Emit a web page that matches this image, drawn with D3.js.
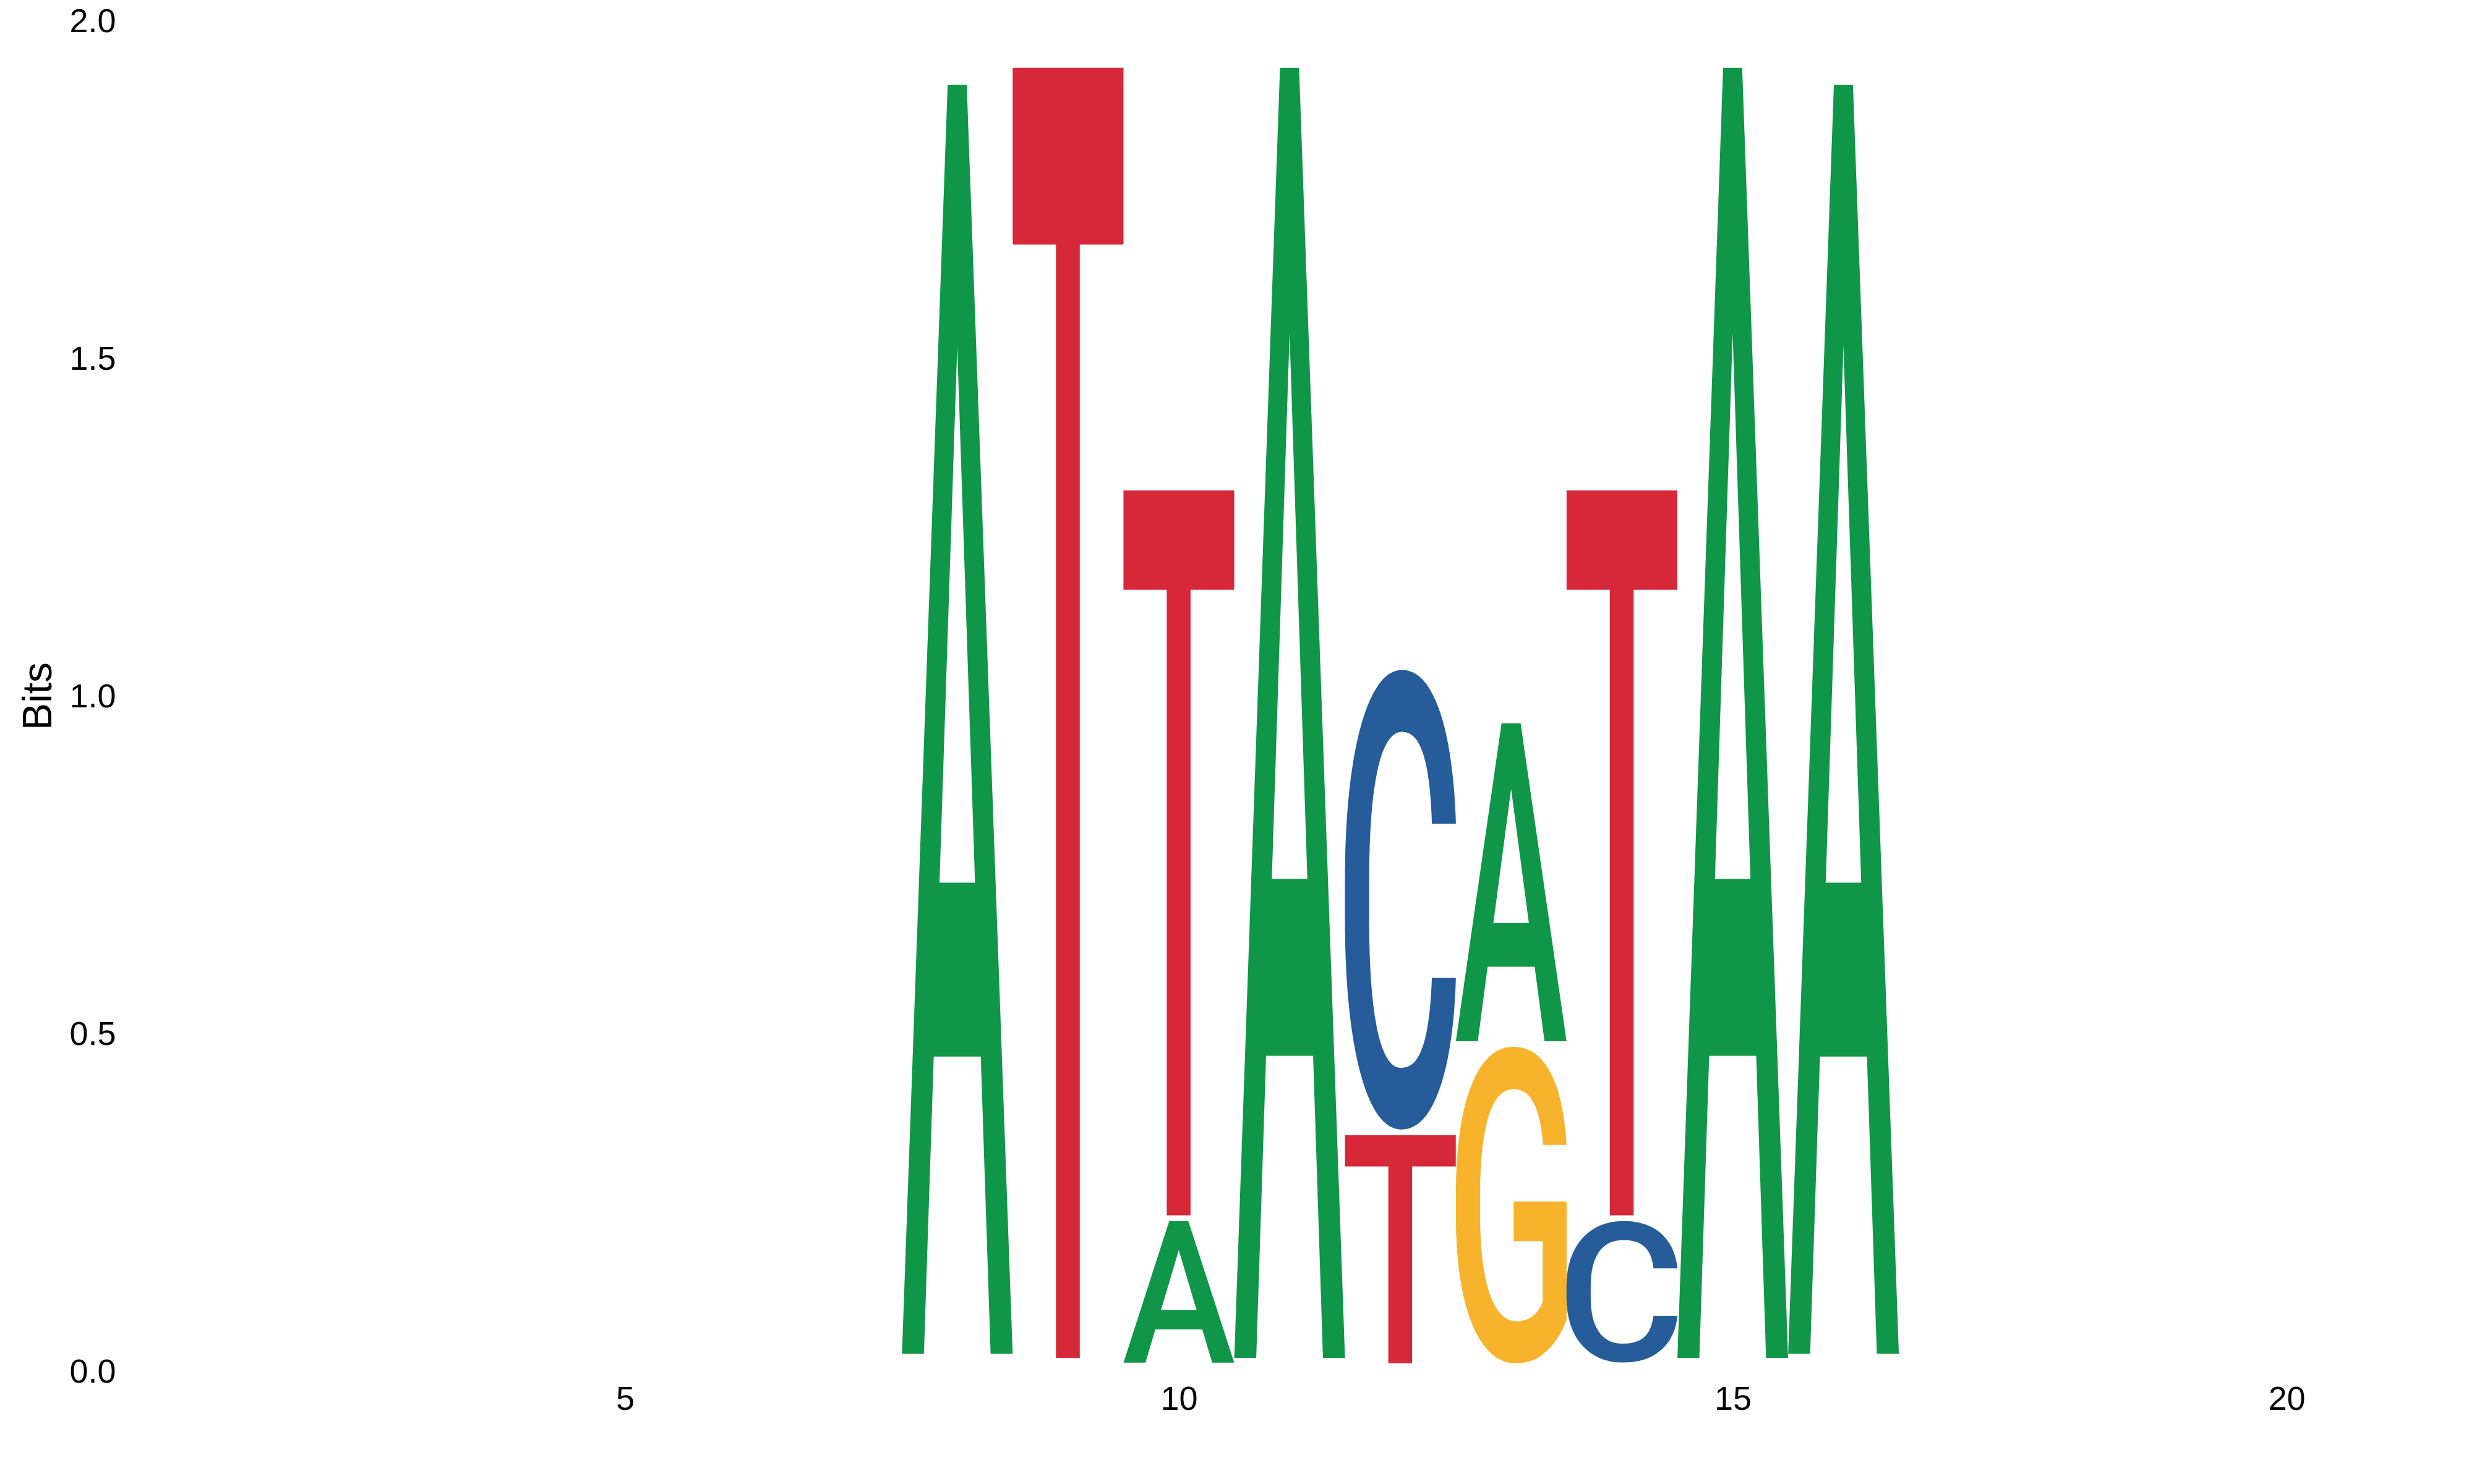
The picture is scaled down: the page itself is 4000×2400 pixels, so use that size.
<!DOCTYPE html>
<html><head><meta charset="utf-8">
<script src="https://cdn.jsdelivr.net/npm/d3@7/dist/d3.min.js"></script>
<style>html,body{margin:0;padding:0;background:#fff;} svg{display:block}</style>
</head><body>
<svg id="chart" width="4000" height="2400"></svg>
<script>
// ---- data (information content in bits per position) ----
const positions = [1,2,3,4,5,6,7,8,9,10,11,12,13,14,15,16,17,18,19,20,21];
const bitsA = [0,0,0,0,0,0,0, 1.888,0.005,0.218,1.919,0.004,0.479,0.004,1.919,1.888, 0,0,0,0,0];
const bitsC = [0,0,0,0,0,0,0, 0.007,0.005,0.004,0.005,0.689,0.004,0.218,0.005,0.007, 0,0,0,0,0];
const bitsG = [0,0,0,0,0,0,0, 0.007,0.006,0.005,0.005,0.004,0.477,0.005,0.005,0.007, 0,0,0,0,0];
const bitsT = [0,0,0,0,0,0,0, 0.008,1.919,1.082,0.006,0.346,0.004,1.082,0.006,0.008, 0,0,0,0,0];
const letters = ["A","C","G","T"];
const letterColors = {A:"#109648", C:"#255C99", G:"#F7B32B", T:"#D62839"};
const yTicks = [0, 0.5, 1, 1.5, 2];
const xTicks = [5, 10, 15, 20];
const yTitle = "Bits";

// ---- layout ----
const plot = {left: 204.5, right: 3965.7, top: 34, bottom: 2218};
const letterGap = 9;
const glyphFont = "Roboto";
const glyphWeight = 500;
const labelFont = "'Liberation Sans', Arial, Helvetica, sans-serif";

const svg = d3.select("#chart");
const x = d3.scaleLinear().domain([0.5, 21.5]).range([plot.left, plot.right]);
const y = d3.scaleLinear().domain([0, 2]).range([plot.bottom, plot.top]);

// stacked table: letters sorted by increasing height at each position
const series = {A: bitsA, C: bitsC, G: bitsG, T: bitsT};
const stacks = [];
positions.forEach((p, i) => {
  const items = letters.map((l, k) => ({letter: l, k, h: series[l][i]}))
    .sort((a, b) => a.h - b.h || a.k - b.k);
  let base = 0;
  items.forEach(it => {
    stacks.push({pos: p, letter: it.letter, y0: base, y1: base + it.h});
    base += it.h;
  });
});

// exact ink bounds of each glyph, found by rasterising it on a canvas
const FS = 1000, OX = 150, OY = 1150;
const met = {};
letters.forEach(l => {
  const cv = document.createElement("canvas");
  cv.width = 1300; cv.height = 1500;
  const ctx = cv.getContext("2d");
  ctx.font = `${glyphWeight} ${FS}px ${glyphFont}`;
  ctx.fillStyle = "#000";
  ctx.fillText(l, OX, OY);
  const d = ctx.getImageData(0, 0, cv.width, cv.height).data;
  let x0 = Infinity, x1 = -Infinity, y0 = Infinity, y1 = -Infinity;
  for (let yy = 0; yy < cv.height; yy++) {
    for (let xx = 0; xx < cv.width; xx++) {
      if (d[(yy * cv.width + xx) * 4 + 3] >= 128) {
        if (xx < x0) x0 = xx; if (xx > x1) x1 = xx;
        if (yy < y0) y0 = yy; if (yy > y1) y1 = yy;
      }
    }
  }
  met[l] = {l: OX - x0, r: x1 + 1 - OX, a: OY - y0, d: y1 + 1 - OY};
});

const gLetters = svg.append("g").attr("class", "letters");
stacks.forEach(s => {
  const xl = x(s.pos - 0.5), xr = x(s.pos + 0.5);
  const yt = y(s.y1) + letterGap / 2, yb = y(s.y0) - letterGap / 2;
  const h = yb - yt;
  if (h <= 0.5) return;
  const m = met[s.letter];
  const sx = (xr - xl) / (m.l + m.r);
  const sy = h / (m.a + m.d);
  gLetters.append("text")
    .attr("transform", `translate(${xl},${yt}) scale(${sx},${sy}) translate(${m.l},${m.a})`)
    .attr("font-family", glyphFont)
    .attr("font-weight", glyphWeight)
    .attr("font-size", FS)
    .attr("fill", letterColors[s.letter])
    .text(s.letter);
});

// axes
const yAxis = svg.append("g")
  .attr("transform", `translate(${plot.left},0)`)
  .call(d3.axisLeft(y).tickValues(yTicks).tickFormat(d3.format(".1f")).tickSize(0).tickPadding(17));
const xAxis = svg.append("g")
  .attr("transform", `translate(0,${plot.bottom})`)
  .call(d3.axisBottom(x).tickValues(xTicks).tickFormat(d3.format("d")).tickSize(0).tickPadding(24));
[yAxis, xAxis].forEach(g => {
  g.select(".domain").remove();
  g.attr("font-family", labelFont).attr("font-size", 54);
  g.selectAll("text").attr("fill", "#000");
});

svg.append("text")
  .attr("transform", `translate(83,${(plot.top + plot.bottom) / 2}) rotate(-90)`)
  .attr("text-anchor", "middle")
  .attr("font-family", labelFont)
  .attr("font-size", 66)
  .attr("fill", "#000")
  .text(yTitle);
</script>
</body></html>
